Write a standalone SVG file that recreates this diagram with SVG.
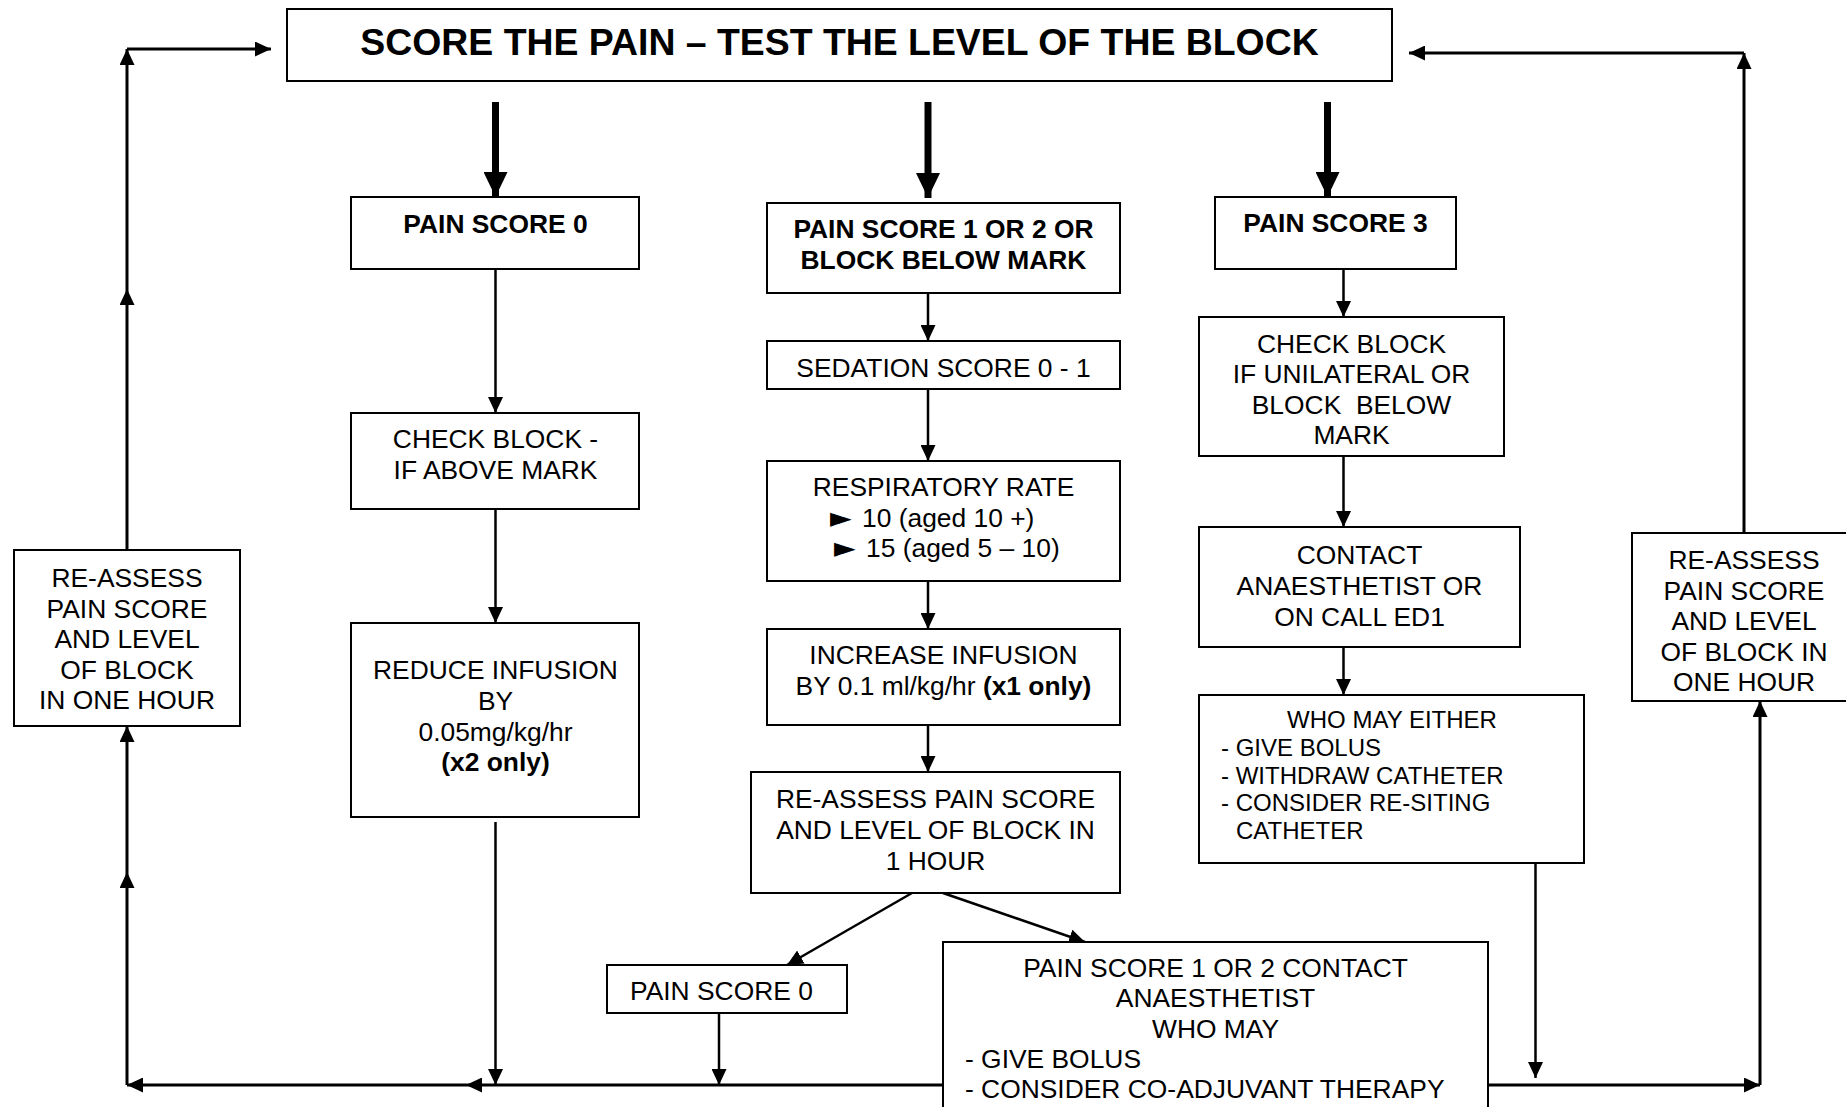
<svg xmlns="http://www.w3.org/2000/svg" width="1846" height="1107" viewBox="0 0 1846 1107">
<style>
.box{fill:#fff;stroke:#000;stroke-width:2}
.t{font-family:"Liberation Sans",Arial,sans-serif;font-size:26.4px;fill:#000}
.c{text-anchor:middle}
.b{font-weight:bold}
.s{font-size:24px}
.tri{font-family:"DejaVu Sans",sans-serif;font-size:28px}
.ln{fill:none;stroke:#000;stroke-width:2.5}
.lo{fill:none;stroke:#000;stroke-width:3}
.th{fill:none;stroke:#000;stroke-width:7}
</style>
<defs>
<marker id="ah" markerUnits="userSpaceOnUse" viewBox="0 0 16 15" refX="16" refY="7.5" markerWidth="16" markerHeight="15" orient="auto">
<path d="M0,0 L16,7.5 L0,15 z" fill="#000"/>
</marker>
<marker id="ahT" markerUnits="userSpaceOnUse" viewBox="0 0 25 24" refX="25" refY="12" markerWidth="25" markerHeight="24" orient="auto">
<path d="M0,0 L25,12 L0,24 z" fill="#000"/>
</marker>
</defs>

<g id="connectors">
<!-- thick arrows from title -->
<path class="th" d="M495.5,102 L495.5,197" marker-end="url(#ahT)"/>
<path class="th" d="M928,102 L928,198" marker-end="url(#ahT)"/>
<path class="th" d="M1327.5,102 L1327.5,197" marker-end="url(#ahT)"/>
<!-- left column -->
<path class="ln" d="M495.5,269 L495.5,413" marker-end="url(#ah)"/>
<path class="ln" d="M495.5,507 L495.5,623" marker-end="url(#ah)"/>
<path class="ln" d="M495.5,822 L495.5,1085" marker-end="url(#ah)"/>
<!-- middle column -->
<path class="ln" d="M928,293 L928,341" marker-end="url(#ah)"/>
<path class="ln" d="M928,389 L928,461" marker-end="url(#ah)"/>
<path class="ln" d="M928,581 L928,629" marker-end="url(#ah)"/>
<path class="ln" d="M928,725 L928,772" marker-end="url(#ah)"/>
<path class="ln" d="M912,893 L787,965" marker-end="url(#ah)"/>
<path class="ln" d="M943,893 L1085,942" marker-end="url(#ah)"/>
<path class="ln" d="M719,1013 L719,1085" marker-end="url(#ah)"/>
<!-- right column -->
<path class="ln" d="M1343.5,269 L1343.5,317" marker-end="url(#ah)"/>
<path class="ln" d="M1343.5,456 L1343.5,527" marker-end="url(#ah)"/>
<path class="ln" d="M1343.5,647 L1343.5,695" marker-end="url(#ah)"/>
<path class="ln" d="M1535.5,863 L1535.5,1078" marker-end="url(#ah)"/>
<!-- bottom return line -->
<path class="lo" d="M943,1085 L466,1085" marker-end="url(#ah)"/>
<path class="lo" d="M466,1085 L127,1085" marker-end="url(#ah)"/>
<path class="lo" d="M1488,1085 L1760,1085" marker-end="url(#ah)"/>
<!-- left loop -->
<path class="lo" d="M127,1085 L127,872" marker-end="url(#ah)"/>
<path class="lo" d="M127,872 L127,726" marker-end="url(#ah)"/>
<path class="lo" d="M127,550 L127,289" marker-end="url(#ah)"/>
<path class="lo" d="M127,289 L127,49" marker-end="url(#ah)"/>
<path class="lo" d="M127,49 L271,49" marker-end="url(#ah)"/>
<!-- right loop -->
<path class="lo" d="M1760,1085 L1760,701" marker-end="url(#ah)"/>
<path class="lo" d="M1744,533 L1744,53" marker-end="url(#ah)"/>
<path class="lo" d="M1744,53 L1409,53" marker-end="url(#ah)"/>
</g>

<g id="title">
<rect class="box" x="287" y="9" width="1105" height="72"/>
<text class="t c b" x="839.5" y="55" style="font-size:37.4px">SCORE THE PAIN – TEST THE LEVEL OF THE BLOCK</text>
</g>

<g id="pain0">
<rect class="box" x="351" y="197" width="288" height="72"/>
<text class="t c b" x="495.5" y="233">PAIN SCORE 0</text>
</g>

<g id="checkAbove">
<rect class="box" x="351" y="413" width="288" height="96"/>
<text class="t c" x="495.5" y="448">CHECK BLOCK -</text>
<text class="t c" x="495.5" y="479">IF ABOVE MARK</text>
</g>

<g id="reduce">
<rect class="box" x="351" y="623" width="288" height="194"/>
<text class="t c" x="495.5" y="679">REDUCE INFUSION</text>
<text class="t c" x="495.5" y="710">BY</text>
<text class="t c" x="495.5" y="741">0.05mg/kg/hr</text>
<text class="t c b" x="495.5" y="771">(x2 only)</text>
</g>

<g id="reassessLeft">
<rect class="box" x="14" y="550" width="226" height="176"/>
<text class="t c" x="127" y="587">RE-ASSESS</text>
<text class="t c" x="127" y="617.5">PAIN SCORE</text>
<text class="t c" x="127" y="648">AND LEVEL</text>
<text class="t c" x="127" y="678.5">OF BLOCK</text>
<text class="t c" x="127" y="709">IN ONE HOUR</text>
</g>

<g id="pain12">
<rect class="box" x="767" y="203" width="353" height="90"/>
<text class="t c b" x="943.5" y="238">PAIN SCORE 1 OR 2 OR</text>
<text class="t c b" x="943.5" y="269">BLOCK BELOW MARK</text>
</g>

<g id="sedation">
<rect class="box" x="767" y="341" width="353" height="48"/>
<text class="t c" x="943.5" y="377">SEDATION SCORE 0 - 1</text>
</g>

<g id="respiratory">
<rect class="box" x="767" y="461" width="353" height="120"/>
<text class="t c" x="943.5" y="496">RESPIRATORY RATE</text>
<text class="t" y="527"><tspan class="tri" x="830">► </tspan><tspan x="862">10 (aged 10 +)</tspan></text>
<text class="t" y="557"><tspan class="tri" x="834">► </tspan><tspan x="866">15 (aged 5 – 10)</tspan></text>
</g>

<g id="increase">
<rect class="box" x="767" y="629" width="353" height="96"/>
<text class="t c" x="943.5" y="664">INCREASE INFUSION</text>
<text class="t c" x="943.5" y="695">BY 0.1 ml/kg/hr <tspan class="b">(x1 only)</tspan></text>
</g>

<g id="reassessMid">
<rect class="box" x="751" y="772" width="369" height="121"/>
<text class="t c" x="935.5" y="808">RE-ASSESS PAIN SCORE</text>
<text class="t c" x="935.5" y="839">AND LEVEL OF BLOCK IN</text>
<text class="t c" x="935.5" y="870">1 HOUR</text>
</g>

<g id="pain0b">
<rect class="box" x="607" y="965" width="240" height="48"/>
<text class="t" x="630" y="1000">PAIN SCORE 0</text>
</g>

<g id="contactBottom">
<rect class="box" x="943" y="942" width="545" height="200"/>
<text class="t c" x="1215.5" y="977">PAIN SCORE 1 OR 2 CONTACT</text>
<text class="t c" x="1215.5" y="1007">ANAESTHETIST</text>
<text class="t c" x="1215.5" y="1038">WHO MAY</text>
<text class="t" x="965" y="1068">- GIVE BOLUS</text>
<text class="t" x="965" y="1098">- CONSIDER CO-ADJUVANT THERAPY</text>
</g>

<g id="pain3">
<rect class="box" x="1215" y="197" width="241" height="72"/>
<text class="t c b" x="1335.5" y="232">PAIN SCORE 3</text>
</g>

<g id="checkUnilateral">
<rect class="box" x="1199" y="317" width="305" height="139"/>
<text class="t c" x="1351.5" y="353">CHECK BLOCK</text>
<text class="t c" x="1351.5" y="383">IF UNILATERAL OR</text>
<text class="t c" x="1351.5" y="414" style="white-space:pre">BLOCK  BELOW</text>
<text class="t c" x="1351.5" y="444">MARK</text>
</g>

<g id="contact">
<rect class="box" x="1199" y="527" width="321" height="120"/>
<text class="t c" x="1359.5" y="564">CONTACT</text>
<text class="t c" x="1359.5" y="595">ANAESTHETIST OR</text>
<text class="t c" x="1359.5" y="626">ON CALL ED1</text>
</g>

<g id="whoMay">
<rect class="box" x="1199" y="695" width="385" height="168"/>
<text class="t s c" x="1392" y="728">WHO MAY EITHER</text>
<text class="t s" x="1221" y="756">- GIVE BOLUS</text>
<text class="t s" x="1221" y="784">- WITHDRAW CATHETER</text>
<text class="t s" x="1221" y="811">- CONSIDER RE-SITING</text>
<text class="t s" x="1236" y="839">CATHETER</text>
</g>

<g id="reassessRight">
<rect class="box" x="1632" y="533" width="230" height="168"/>
<text class="t c" x="1744" y="569">RE-ASSESS</text>
<text class="t c" x="1744" y="600">PAIN SCORE</text>
<text class="t c" x="1744" y="630">AND LEVEL</text>
<text class="t c" x="1744" y="661">OF BLOCK IN</text>
<text class="t c" x="1744" y="691">ONE HOUR</text>
</g>
</svg>
